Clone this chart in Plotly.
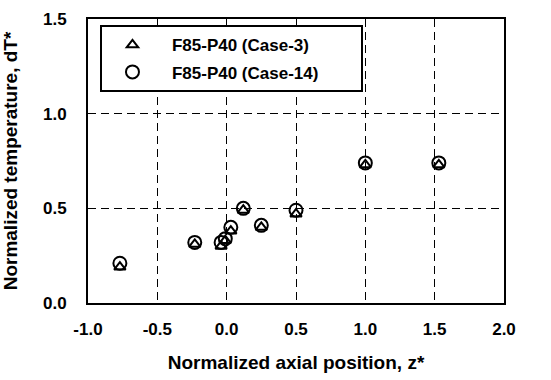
import plotly.graph_objects as go

# Data
z_case3 = [-0.77, -0.23, -0.04, -0.01, 0.03, 0.12, 0.25, 0.50, 1.00, 1.53]
dT_case3 = [0.19, 0.31, 0.30, 0.33, 0.38, 0.49, 0.40, 0.47, 0.73, 0.73]
z_case14 = [-0.77, -0.23, -0.04, -0.01, 0.03, 0.12, 0.25, 0.50, 1.00, 1.53]
dT_case14 = [0.21, 0.32, 0.32, 0.34, 0.40, 0.50, 0.41, 0.49, 0.74, 0.74]
name_case3 = "F85-P40 (Case-3)"
name_case14 = "F85-P40 (Case-14)"
x_tickvals = [-1.0, -0.5, 0.0, 0.5, 1.0, 1.5, 2.0]
x_ticktext = ["-1.0", "-0.5", "0.0", "0.5", "1.0", "1.5", "2.0"]
y_tickvals = [0.0, 0.5, 1.0, 1.5]
y_ticktext = ["0.0", "0.5", "1.0", "1.5"]
x_title = "Normalized axial position, z*"
y_title = "Normalized temperature, dT*"

FONT = "Liberation Sans, Arial, sans-serif"
PAD = "\u00a0" * 2
TAIL = "\u00a0" * 8

fig = go.Figure()
fig.add_trace(go.Scatter(
    x=z_case3, y=dT_case3, mode="markers", name=PAD + name_case3, legendgroup="a",
    marker=dict(symbol="triangle-up-open", size=10, color="black", line=dict(width=2, color="black")),
))
fig.add_trace(go.Scatter(
    x=z_case14, y=dT_case14, mode="markers", name=PAD + name_case14 + TAIL, legendgroup="b",
    marker=dict(symbol="circle-open", size=13, color="black", line=dict(width=2, color="black")),
))

axis_common = dict(
    showline=True, mirror=True, linecolor="black", linewidth=2,
    showgrid=True, gridcolor="black", gridwidth=1.3, griddash="8px,5px",
    zeroline=False, ticks="", tickmode="array",
    tickfont=dict(family=FONT, size=17, color="black", weight="bold"),
    title_font=dict(family=FONT, size=19, color="black", weight="bold"),
)

fig.update_xaxes(range=[-1, 2], tickvals=x_tickvals, ticktext=x_ticktext,
                 title_text=x_title, title_standoff=17,
                 ticklabelstandoff=10, **axis_common)
fig.update_yaxes(range=[0, 1.5], tickvals=y_tickvals, ticktext=y_ticktext,
                 title_text=y_title, title_standoff=20,
                 ticklabelstandoff=16, **axis_common)

fig.update_layout(
    width=551, height=380,
    margin=dict(l=87, r=47, t=10, b=74),
    paper_bgcolor="white", plot_bgcolor="white",
    font=dict(family=FONT, color="black"),
    showlegend=True,
    legend=dict(
        x=0.03, y=0.978, xanchor="left", yanchor="top",
        bgcolor="white", bordercolor="black", borderwidth=2,
        font=dict(family=FONT, size=17, color="black", weight="bold"),
        tracegroupgap=2, itemwidth=50,
    ),
)

fig.write_html("out.html", config={"displayModeBar": False},
               post_script="document.body.style.margin='0';")
